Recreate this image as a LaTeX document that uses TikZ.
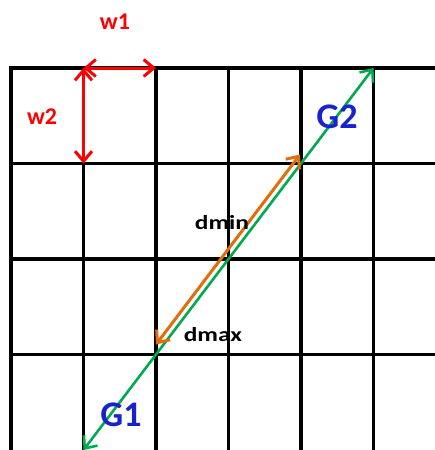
\documentclass[tikz,border=0pt]{standalone}
\usepackage{fontspec}
\setmainfont{Carlito}
\newfontfamily\widefont[FakeStretch=1.27]{Carlito}
\usetikzlibrary{arrows.meta}
\definecolor{gline}{RGB}{0,170,80}
\definecolor{oline}{RGB}{228,108,10}
\definecolor{gblue}{RGB}{25,35,205}
\begin{document}
\begin{tikzpicture}[x=72.5pt,y=-95.5pt,
  barb/.style={<->,>={Straight Barb[length=10pt,width=17pt]}},
  wlabel/.style={red,font=\bfseries\fontsize{24}{24}\selectfont,inner sep=0pt},
  glabel/.style={gblue,font=\bfseries\fontsize{36}{36}\selectfont,inner sep=0pt},
  dlabel/.style={font=\widefont\bfseries\fontsize{20}{20}\selectfont,inner sep=0pt}]
  \useasboundingbox (-0.1517,-0.712) rectangle (5.848,4);
  % grid
  \foreach \i in {0,...,5} \draw[line width=3.3pt,line cap=rect] (\i,0) -- (\i,4);
  \foreach \j in {0,...,3} \draw[line width=3.3pt,line cap=rect] (0,\j) -- (5.848,\j);
  \coordinate (O) at (1,0);
  \coordinate (W1) at (2,0);
  \coordinate (W2) at (1,1);
  \coordinate (G1) at (1,4);
  \coordinate (G2) at (5,0);
  \coordinate (D1) at (2,3);
  \coordinate (D2) at (4,1);
  \draw[barb,red,line width=3pt] (O) -- (W1);
  \draw[barb,red,line width=3pt] (O) -- (W2);
  \draw[barb,gline,line width=2.6pt] (G1) -- (G2);
  \draw[barb,oline,line width=3pt] ([shift={(-1pt,9pt)}]D2) -- ([shift={(0pt,10pt)}]D1);
  \node[wlabel] (w1) at (1.434,-0.482) {w1};
  \node[wlabel] (w2) at (0.428,0.513) {w2};
  \node[glabel] (g2) at (4.497,0.513) {G2};
  \node[glabel] (g1) at (1.517,3.634) {G1};
  \node[dlabel] (dmin) at (2.91,1.623) {dmin};
  \node[dlabel] (dmax) at (2.786,2.796) {dmax};
\end{tikzpicture}
\end{document}
